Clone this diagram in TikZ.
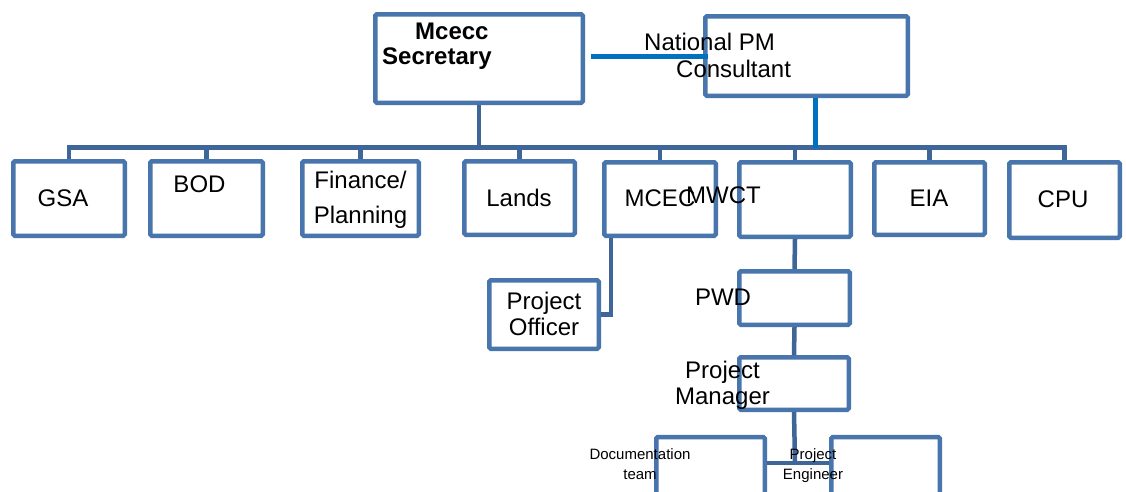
\documentclass[tikz,border=0pt]{standalone}
\usepackage{fontspec}
\setmainfont{Liberation Sans}

\begin{document}
\begin{tikzpicture}[x=1pt,y=1pt,yscale=-1,xscale=1,
  unit/.style={draw={rgb,255:red,72;green,118;blue,172}, line width=4.5pt, rounded corners=1.5pt, inner sep=0pt},
  wire/.style={draw={rgb,255:red,62;green,102;blue,152}, line width=4.5pt},
  accent/.style={draw={rgb,255:red,0;green,112;blue,192}, line width=5pt},
  label/.style={inner sep=0pt, align=center, font=\fontsize{24}{26}\selectfont},
  small/.style={inner sep=0pt, align=center, font=\fontsize{15}{20}\selectfont}]
%page of 1126 x 491, lower boxes run off the bottom edge
\clip (0,0) rectangle (1126,491);
\fill [white] (0,0) rectangle (1126,491);

%Shape: Rectangle (top row)
\node [unit, minimum width=207.5, minimum height=88.5] (sec) at (479,58.5) {};
\node [unit, minimum width=202.5, minimum height=79.5] (npm) at (806.5,56) {};

%Shape: Rectangle (second row)
\node [unit, minimum width=111.5, minimum height=74.5] (gsa) at (69,198.5) {};
\node [unit, minimum width=112.5, minimum height=74.5] (bod) at (206.5,198.5) {};
\node [unit, minimum width=116.5, minimum height=74.5] (fin) at (360.5,198.5) {};
\node [unit, minimum width=110.5, minimum height=73.5] (lands) at (519.5,198) {};
\node [unit, minimum width=111.5, minimum height=73.5] (mcec) at (660,199) {};
\node [unit, minimum width=111.5, minimum height=74.5] (mwct) at (795,199.5) {};
\node [unit, minimum width=110.5, minimum height=72.5] (eia) at (929.5,198.5) {};
\node [unit, minimum width=110.5, minimum height=75.5] (cpu) at (1064.5,200) {};

%Shape: Rectangle (lower boxes)
\node [unit, minimum width=109.5, minimum height=68.5] (off) at (544,314.5) {};
\node [unit, minimum width=110.5, minimum height=53.5] (pwd) at (794.5,298) {};
\node [unit, minimum width=109.5, minimum height=52.5] (pm) at (794,383.5) {};
\node [unit, minimum width=108.5, minimum height=70] (doc) at (710.5,472) {};
\node [unit, minimum width=108.5, minimum height=70] (eng) at (885.5,472) {};

\coordinate (bus) at (0,147.5);
\coordinate (tie) at (795,463);

%Straight Lines: bus and drops
\draw [wire] (gsa.north) -- (gsa.north |- bus) -- (cpu.north |- bus) -- (cpu.north);
\foreach \n in {bod,fin,lands,mcec,mwct,eia}
  \draw [wire] (\n.north) -- (\n.north |- bus);
\draw [wire] (sec.south) -- (sec.south |- bus);

%Straight Lines: link to consultant
\draw [accent] ([xshift=6pt]sec.east |- npm.west) -- ([xshift=5pt]npm.west);
\draw [accent] ([xshift=8.5pt]npm.south) -- ([xshift=8.5pt]npm.south |- bus);

%Straight Lines: lower branches
\draw [wire] (off.east) -| ([xshift=9pt]mcec.south west);
\draw [wire] (mwct.south) -- (pwd.north);
\draw [wire] (pwd.south) -- (pm.north);
\draw [wire] (pm.south) -- (tie);
\draw [wire] (doc.east |- tie) -- (eng.west |- tie);

% Text Node
\node [label, anchor=west, align=left, font=\fontsize{24}{25}\selectfont\bfseries] (t-sec) at (382,46.4) {\hspace*{33pt}Mcecc\\Secretary};
% Text Node
\node [label, anchor=west, align=left, font=\fontsize{24}{27}\selectfont] (t-npm) at (644,55) {National PM\\\hspace*{32pt}Consultant};
% Text Node
\node [label] (t-gsa) at (63,198) {GSA};
% Text Node
\node [label] (t-bod) at (199.5,184) {BOD};
% Text Node
\node [label, font=\fontsize{24}{35}\selectfont] (t-fin) at (360.5,200) {Finance/\\Planning};
% Text Node
\node [label] (t-lands) at (519,198) {Lands};
% Text Node
\node [label] (t-mcec) at (660,198.5) {MCEC};
% Text Node
\node [label] (t-mwct) at (723.5,195.5) {MWCT};
% Text Node
\node [label] (t-eia) at (929,198) {EIA};
% Text Node
\node [label] (t-cpu) at (1063,199.5) {CPU};
% Text Node
\node [label] (t-off) at (544,314) {Project\\Officer};
% Text Node
\node [label] (t-pwd) at (723,297.5) {PWD};
% Text Node
\node [label] (t-pm) at (722.5,385) {Project\\Manager};
% Text Node
\node [small] (t-doc) at (640,463.7) {Documentation\\team};
% Text Node
\node [small] (t-eng) at (813,465.2) {Project\\Engineer};

\end{tikzpicture}
\end{document}
